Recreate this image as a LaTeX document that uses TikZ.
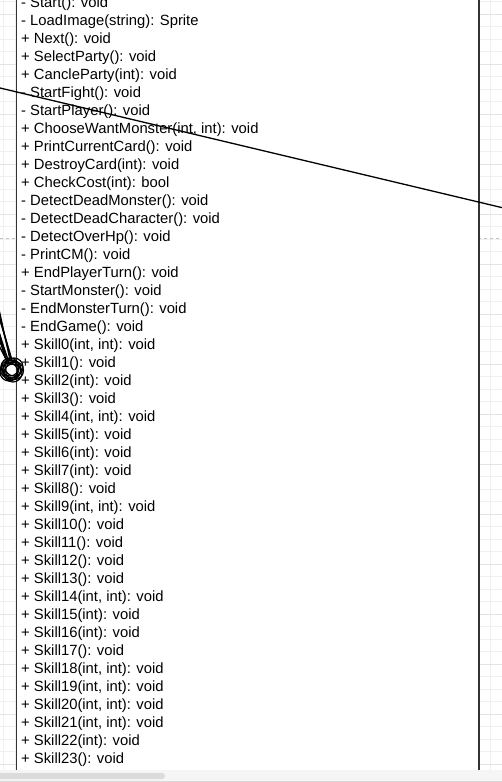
\documentclass[tikz,border=0pt]{standalone}
\usepackage{fontspec}
\setmainfont{Liberation Sans}
\usetikzlibrary{positioning}

\tikzset{
  member/.style={inner sep=0pt, outer sep=0pt, text height=12.3bp, text depth=5.7bp, anchor=north west,
    font=\fontsize{14.8bp}{18bp}\selectfont},
  rowbelow/.style={below=0pt of #1.south west, anchor=north west},
  link/.style={line width=1.3bp, black},
  endmark/.style={circle, draw=black, line width=1.2bp, minimum size=18bp, inner sep=0pt},
  classbox/.style={draw=black!80, line width=1.4bp, fill=white},
}

\begin{document}
\begin{tikzpicture}[x=1bp, y=-1bp]
    \clip (0,0) rectangle (502,782);
    \fill[white] (0,0) rectangle (502,782);

    % canvas grid
    \foreach \gx in {0,...,40} {
        \draw[black!6, line width=0.8bp] (3+12.5*\gx,0) -- (3+12.5*\gx,782);
    }
    \foreach \gy in {0,...,63} {
        \draw[black!6, line width=0.8bp] (0,1.8+12.5*\gy) -- (502,1.8+12.5*\gy);
    }
    \foreach \gy in {0,...,15} {
        \draw[black!11, line width=0.8bp] (0,14.3+50*\gy) -- (502,14.3+50*\gy);
    }
    \draw[black!25, dashed, line width=0.9bp] (0,238.5) -- (502,238.5);

    % class body
    \draw[classbox] (16.6,-10) rectangle (479,800);

    \node[member] (m0) at (21.2,-5) {- Start(): void};
    \node[member, rowbelow=m0] (m1) {- LoadImage(string): Sprite};
    \node[member, rowbelow=m1] (m2) {+ Next(): void};
    \node[member, rowbelow=m2] (m3) {+ SelectParty(): void};
    \node[member, rowbelow=m3] (m4) {+ CancleParty(int): void};
    \node[member, rowbelow=m4] (m5) {- StartFight(): void};
    \node[member, rowbelow=m5] (m6) {- StartPlayer(): void};
    \node[member, rowbelow=m6] (m7) {+ ChooseWantMonster(int, int): void};
    \node[member, rowbelow=m7] (m8) {+ PrintCurrentCard(): void};
    \node[member, rowbelow=m8] (m9) {+ DestroyCard(int): void};
    \node[member, rowbelow=m9] (m10) {+ CheckCost(int): bool};
    \node[member, rowbelow=m10] (m11) {- DetectDeadMonster(): void};
    \node[member, rowbelow=m11] (m12) {- DetectDeadCharacter(): void};
    \node[member, rowbelow=m12] (m13) {- DetectOverHp(): void};
    \node[member, rowbelow=m13] (m14) {- PrintCM(): void};
    \node[member, rowbelow=m14] (m15) {+ EndPlayerTurn(): void};
    \node[member, rowbelow=m15] (m16) {- StartMonster(): void};
    \node[member, rowbelow=m16] (m17) {- EndMonsterTurn(): void};
    \node[member, rowbelow=m17] (m18) {- EndGame(): void};
    \node[member, rowbelow=m18] (m19) {+ Skill0(int, int): void};
    \node[member, rowbelow=m19] (m20) {+ Skill1(): void};
    \node[member, rowbelow=m20] (m21) {+ Skill2(int): void};
    \node[member, rowbelow=m21] (m22) {+ Skill3(): void};
    \node[member, rowbelow=m22] (m23) {+ Skill4(int, int): void};
    \node[member, rowbelow=m23] (m24) {+ Skill5(int): void};
    \node[member, rowbelow=m24] (m25) {+ Skill6(int): void};
    \node[member, rowbelow=m25] (m26) {+ Skill7(int): void};
    \node[member, rowbelow=m26] (m27) {+ Skill8(): void};
    \node[member, rowbelow=m27] (m28) {+ Skill9(int, int): void};
    \node[member, rowbelow=m28] (m29) {+ Skill10(): void};
    \node[member, rowbelow=m29] (m30) {+ Skill11(): void};
    \node[member, rowbelow=m30] (m31) {+ Skill12(): void};
    \node[member, rowbelow=m31] (m32) {+ Skill13(): void};
    \node[member, rowbelow=m32] (m33) {+ Skill14(int, int): void};
    \node[member, rowbelow=m33] (m34) {+ Skill15(int): void};
    \node[member, rowbelow=m34] (m35) {+ Skill16(int): void};
    \node[member, rowbelow=m35] (m36) {+ Skill17(): void};
    \node[member, rowbelow=m36] (m37) {+ Skill18(int, int): void};
    \node[member, rowbelow=m37] (m38) {+ Skill19(int, int): void};
    \node[member, rowbelow=m38] (m39) {+ Skill20(int, int): void};
    \node[member, rowbelow=m39] (m40) {+ Skill21(int, int): void};
    \node[member, rowbelow=m40] (m41) {+ Skill22(int): void};
    \node[member, rowbelow=m41] (m42) {+ Skill23(): void};

    % connector crossing the class
    \coordinate (linkin) at (-10,85.6);
    \coordinate (linkout) at (512,210);
    \draw[link] (linkin) -- (linkout);

    % bundle of ends on the left
    \coordinate (src1) at (-10,268);
    \coordinate (src2) at (-10,285);
    \coordinate (src3) at (-10,296);
    \coordinate (src4) at (-10,312);
    \coordinate (src5) at (-10,328);
    \coordinate (src6) at (-10,304);
    \node[endmark] (end1) at (12,369) {};
    \node[endmark] (end2) at (14,367) {};
    \node[endmark] (end3) at (9,372) {};
    \node[endmark] (end4) at (13,373) {};
    \node[endmark] (end5) at (10,367) {};
    \node[endmark] (end6) at (11.5,371) {};
    \node[endmark] (end7) at (14.5,370.5) {};
    \node[endmark] (end8) at (9.5,369.5) {};
    \draw[link] (src1) -- (end1);
    \draw[link] (src2) -- (end2);
    \draw[link] (src3) -- (end3);
    \draw[link] (src4) -- (end4);
    \draw[link] (src5) -- (end5);
    \draw[link] (src6) -- (end6);
    \draw[link] (src2) -- (end7);
    \draw[link] (src4) -- (end8);

    % scroll bar
    \fill[black!4] (0,769.5) rectangle (502,782);
    \fill[black!14, rounded corners=3bp] (-4,773) rectangle (165,779);
    \draw[black!15, line width=1bp] (0,781) -- (502,781);
\end{tikzpicture}
\end{document}
